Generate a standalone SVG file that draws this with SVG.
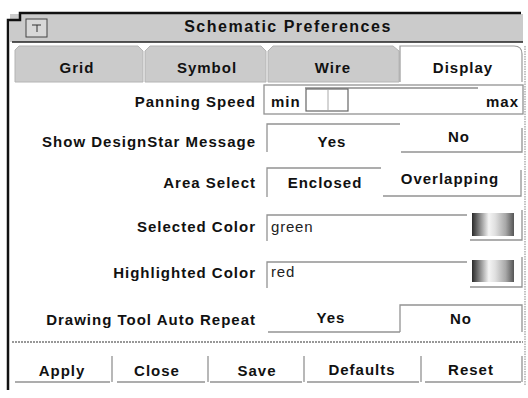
<svg xmlns="http://www.w3.org/2000/svg" width="528" height="398" viewBox="0 0 528 398">
<defs>
<style>
.lbl{font-family:"Liberation Sans",Arial,sans-serif;font-weight:bold;font-size:15px;fill:#111;letter-spacing:1px}
.end{text-anchor:end}
.mid{text-anchor:middle}
.val{font-family:"Liberation Sans",Arial,sans-serif;font-size:15px;fill:#222;letter-spacing:0.8px}
.title{font-family:"Liberation Sans",Arial,sans-serif;font-weight:bold;font-size:16px;fill:#111;letter-spacing:1.5px;text-anchor:middle}
.bd{stroke:#939393;stroke-width:1.3;fill:none}
.tab{fill:#cbcbcb;stroke:#b4b4b4;stroke-width:1}
</style>
<linearGradient id="sw" x1="0" y1="0" x2="1" y2="0">
<stop offset="0" stop-color="#2a2a2a"/>
<stop offset="0.4" stop-color="#f4f4f4"/>
<stop offset="0.55" stop-color="#e0e0e0"/>
<stop offset="0.8" stop-color="#a8a8a8"/>
<stop offset="1" stop-color="#555"/>
</linearGradient>
</defs>
<rect width="528" height="398" fill="#fff"/>

<g id="window">
<rect x="10" y="14" width="513" height="28" fill="#cbcbcb"/>
<path d="M8 390 V20 H20 V13 H521" fill="none" stroke="#111" stroke-width="2.5"/>
<line x1="12" y1="42" x2="523" y2="42" stroke="#222" stroke-width="1.5"/>
<line x1="525" y1="46" x2="525" y2="386" stroke="#999" stroke-width="1.2" stroke-dasharray="1.5 1"/>
</g>

<g id="title-box">
<rect x="26" y="19" width="21" height="18" fill="#d8d8d8" stroke="#444" stroke-width="1"/>
<path d="M32 25 H41 M37 25 V32" stroke="#333" stroke-width="1" fill="none"/>
</g>
<g id="title"><text class="title" x="288" y="32">Schematic Preferences</text></g>

<g id="tab-grid">
<path class="tab" d="M15 82 V50 L19 46 H138 L143 51 V82 Z"/>
<text class="lbl mid" x="77" y="73">Grid</text>
</g>
<g id="tab-symbol">
<path class="tab" d="M145 82 V51 L150 46 H261 L266 51 V82 Z"/>
<text class="lbl mid" x="207" y="73">Symbol</text>
</g>
<g id="tab-wire">
<path class="tab" d="M268 82 V51 L273 46 H393 L399 51 V82 Z"/>
<text class="lbl mid" x="333" y="73">Wire</text>
</g>
<g id="tab-display">
<path d="M400 82 V46 H514 Q522 46 522 54 V82" fill="#fff" stroke="#999" stroke-width="1.2"/>
<text class="lbl mid" x="463" y="73">Display</text>
</g>

<g id="panning-speed">
<text class="lbl end" x="256" y="107">Panning Speed</text>
<rect class="bd" x="264" y="85" width="259" height="29"/>
<line x1="305" y1="88" x2="478" y2="88" stroke="#555" stroke-width="1.2"/>
<rect x="306" y="89" width="42" height="22" fill="#fff" stroke="#666" stroke-width="1.2"/>
<line x1="328" y1="90" x2="328" y2="110" stroke="#aaa" stroke-width="1"/>
<text class="lbl" x="271" y="107">min</text>
<text class="lbl end" x="519" y="107">max</text>
</g>

<g id="designstar-message">
<text class="lbl end" x="256" y="147">Show DesignStar Message</text>
<path class="bd" d="M267 152 V124 H400"/>
<path class="bd" d="M401 152 H522 V128"/>
<text class="lbl mid" x="332" y="147">Yes</text>
<text class="lbl mid" x="459" y="142">No</text>
</g>

<g id="area-select">
<text class="lbl end" x="256" y="188">Area Select</text>
<path class="bd" d="M267 197 V168 H381"/>
<path class="bd" d="M383 196 H521 V170"/>
<text class="lbl mid" x="325" y="188">Enclosed</text>
<text class="lbl mid" x="450" y="184">Overlapping</text>
</g>

<g id="selected-color">
<text class="lbl end" x="256" y="232">Selected Color</text>
<path class="bd" d="M267 241 V215 H467"/>
<text class="val" x="271" y="232">green</text>
<rect x="472" y="213" width="42" height="23" fill="url(#sw)"/>
<path class="bd" d="M470 240 H522 V210"/>
</g>

<g id="highlighted-color">
<text class="lbl end" x="256" y="278">Highlighted Color</text>
<path class="bd" d="M267 288 V262 H467"/>
<text class="val" x="271" y="277">red</text>
<rect x="472" y="260" width="42" height="22" fill="url(#sw)"/>
<path class="bd" d="M470 287 H522 V257"/>
</g>

<g id="auto-repeat">
<text class="lbl end" x="256" y="325">Drawing Tool Auto Repeat</text>
<path class="bd" d="M268 332 H400"/>
<path class="bd" d="M400 332 V305 H522 V332"/>
<text class="lbl mid" x="331" y="323">Yes</text>
<text class="lbl mid" x="461" y="324">No</text>
</g>

<g id="separator">
<line x1="12" y1="342" x2="523" y2="342" stroke="#777" stroke-width="1.5" stroke-dasharray="2 1"/>
</g>

<g id="btn-apply">
<path class="bd" d="M15 382 H110 M112 356 V382"/>
<text class="lbl mid" x="62" y="376">Apply</text>
</g>
<g id="btn-close">
<path class="bd" d="M117 382 H205 M208 356 V382"/>
<text class="lbl mid" x="157" y="376">Close</text>
</g>
<g id="btn-save">
<path class="bd" d="M210 382 H302 M304 356 V382"/>
<text class="lbl mid" x="257" y="376">Save</text>
</g>
<g id="btn-defaults">
<path class="bd" d="M307 382 H419 M421 356 V382"/>
<text class="lbl mid" x="362" y="375">Defaults</text>
</g>
<g id="btn-reset">
<path class="bd" d="M425 382 H521 M522 356 V382"/>
<text class="lbl mid" x="471" y="375">Reset</text>
</g>
</svg>
